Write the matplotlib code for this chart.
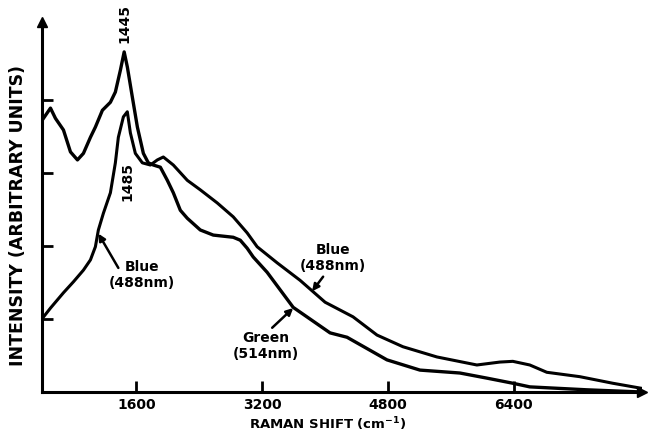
import matplotlib
matplotlib.use("Agg")
import matplotlib.pyplot as plt

# Raman spectra (shift in cm^-1, intensity in tick units)
green_shift = [419, 508, 571, 673, 762, 851, 927, 1016, 1079, 1168, 1270, 1333, 1397, 1445,
               1486, 1549, 1613, 1689, 1752, 1816, 1905, 1994, 2070, 2159, 2248, 2413, 2578,
               2832, 2921, 3009, 3086, 3263, 3594, 4063, 4279, 4787, 5206, 5714, 6057, 6387,
               6603, 7327, 8025]
green_int = [3.75, 3.89, 3.75, 3.59, 3.29, 3.18, 3.27, 3.49, 3.63, 3.86, 3.97, 4.11, 4.41, 4.66,
             4.45, 4.04, 3.63, 3.27, 3.14, 3.11, 3.08, 2.90, 2.73, 2.49, 2.38, 2.22, 2.15,
             2.12, 2.08, 1.97, 1.85, 1.64, 1.16, 0.81, 0.75, 0.44, 0.30, 0.26, 0.19, 0.12,
             0.07, 0.03, 0.0]

blue_shift = [406, 508, 673, 800, 927, 1016, 1079, 1117, 1181, 1270, 1333, 1371, 1435, 1485,
              1524, 1587, 1676, 1778, 1867, 1943, 2070, 2248, 2413, 2629, 2832, 3009, 3136,
              3390, 3682, 4000, 4355, 4660, 4990, 5422, 5930, 6222, 6387, 6603, 6819, 7238,
              7657, 8025]
blue_int = [1.01, 1.15, 1.36, 1.51, 1.67, 1.81, 1.99, 2.22, 2.45, 2.73, 3.14, 3.49, 3.77, 3.84,
            3.55, 3.27, 3.14, 3.11, 3.18, 3.22, 3.11, 2.90, 2.77, 2.59, 2.40, 2.18, 1.99,
            1.77, 1.53, 1.23, 1.03, 0.78, 0.62, 0.48, 0.37, 0.41, 0.42, 0.37, 0.27, 0.21,
            0.12, 0.05]

x_ticks = [1600, 3200, 4800, 6400]
y_ticks = [1, 2, 3, 4]

plt.rcParams["font.family"] = ["DejaVu Sans"]
plt.rcParams["font.weight"] = "bold"
plt.rcParams["mathtext.default"] = "bf"

fig = plt.figure(figsize=(6.52, 4.37), dpi=100)
ax = fig.add_axes([0.0644, 0.103, 0.9203, 0.8467])

ax.plot(green_shift, green_int, color="black", lw=2.4, solid_joinstyle="round")
ax.plot(blue_shift, blue_int, color="black", lw=2.2, solid_joinstyle="round")

ax.set_xlim(400, 8030)
ax.set_ylim(0, 5.07)

for s in ["top", "right"]:
    ax.spines[s].set_visible(False)
for s in ["left", "bottom"]:
    ax.spines[s].set_linewidth(2.2)

# arrowheads on the axes
ax.plot(1, 0, ">k", ms=7, transform=ax.transAxes, clip_on=False)
ax.plot(0, 1, "^k", ms=7, transform=ax.transAxes, clip_on=False)

ax.set_xticks(x_ticks)
ax.set_xticklabels([str(v) for v in x_ticks], fontsize=10, fontweight="bold")
ax.set_yticks(y_ticks)
ax.set_yticklabels([])
ax.tick_params(direction="in", length=8, width=2, pad=4)

fig.text(0.503, 0.03, "RAMAN SHIFT (cm$^{-1}$)", ha="center", va="center",
         fontsize=9.5, fontweight="bold")
fig.text(0.028, 0.508, "INTENSITY (ARBITRARY UNITS)", rotation=90, ha="center", va="center",
         fontsize=12.5, fontweight="bold")

# peak labels
ax.text(1445, 4.78, "1445", rotation=90, ha="center", va="bottom", fontsize=10, fontweight="bold")
ax.text(1485, 2.88, "1485", rotation=90, ha="center", va="center", fontsize=10, fontweight="bold")

# curve labels and arrows
arrow = dict(arrowstyle="-|>", color="black", lw=1.8, mutation_scale=10, shrinkA=0, shrinkB=0)
ax.text(1676, 1.60, "Blue\n(488nm)", ha="center", va="center", fontsize=10, linespacing=1.15)
ax.annotate("", xy=(1117, 2.17), xytext=(1371, 1.70), arrowprops=arrow)

ax.text(3251, 0.63, "Green\n(514nm)", ha="center", va="center", fontsize=10, linespacing=1.15)
ax.annotate("", xy=(3594, 1.15), xytext=(3327, 0.88), arrowprops=arrow)

ax.text(4102, 1.84, "Blue\n(488nm)", ha="center", va="center", fontsize=10, linespacing=1.15)
ax.annotate("", xy=(3835, 1.38), xytext=(3975, 1.58), arrowprops=arrow)

fig.savefig("out.png", dpi=100)
